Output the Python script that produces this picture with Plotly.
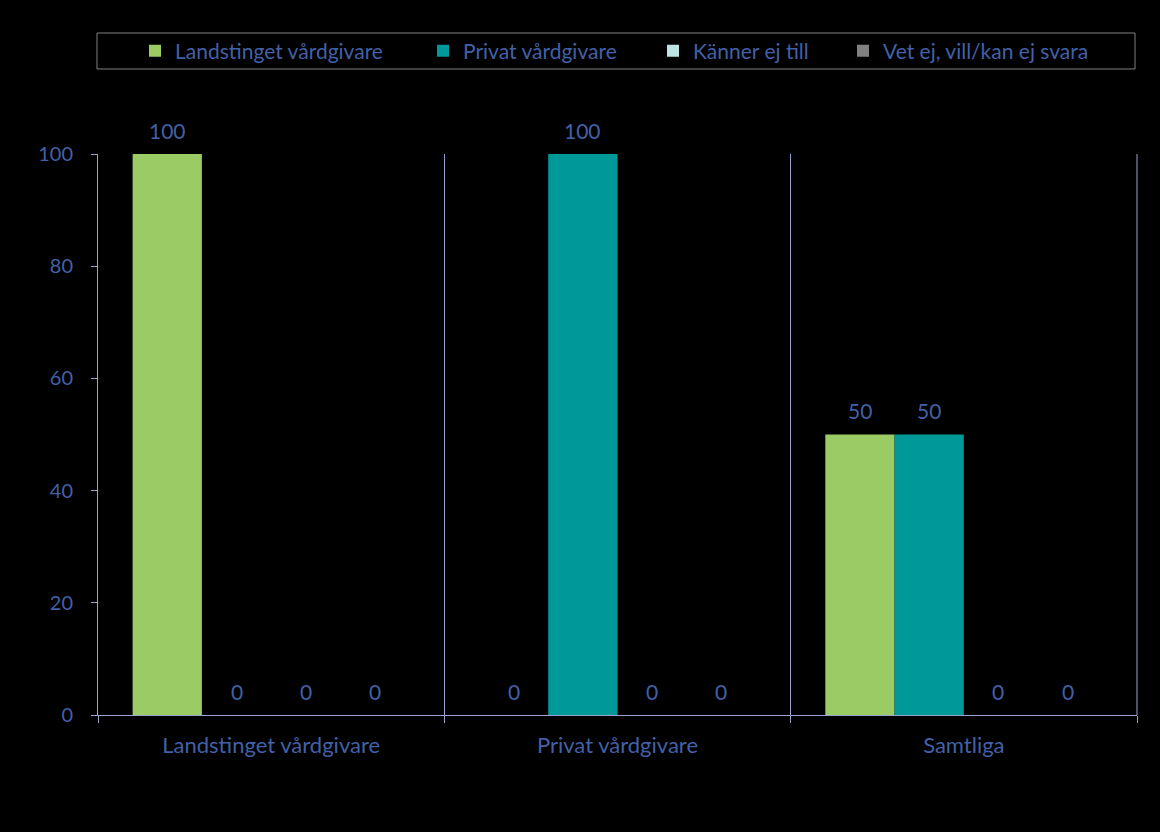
import plotly.graph_objects as go

categories = ["Landstinget vårdgivare", "Privat vårdgivare", "Samtliga"]
series_names = ["Landstinget vårdgivare", "Privat vårdgivare", "Känner ej till", "Vet ej, vill/kan ej svara"]
landstinget = [100, 0, 50]
privat = [0, 100, 50]
kanner_ej = [0, 0, 0]
vet_ej = [0, 0, 0]
y_ticks = [0, 20, 40, 60, 80, 100]

values = [landstinget, privat, kanner_ej, vet_ej]
colors = ["#9BCB64", "#009999", "#BDE3E3", "#808080"]
text_color = "#4360A8"
axis_color = "#9AA3D0"
font_family = "Lato, 'Open Sans', sans-serif"

# plot area in pixels
L, R, T, B = 98, 1137, 154, 715
W, H = R - L, B - T
def px_x(px):
    return (px - L) / W
def px_y(py):
    return (B - py) / H

bargap = 0.2
n_series = len(series_names)
bar_px = W / len(categories) * (1 - bargap) / n_series

legend_x_px = [135, 423, 653, 843]
legend_keys = ["legend", "legend2", "legend3", "legend4"]

fig = go.Figure()
annotations = []
for i, (name, vals, col, lk) in enumerate(zip(series_names, values, colors, legend_keys)):
    fig.add_trace(go.Bar(
        x=categories, y=vals, name=name, marker_color=col,
        marker_line_width=0, legend=lk, hoverinfo="x+y+name",
    ))
    for cat, v in zip(categories, vals):
        annotations.append(dict(
            x=cat, y=v, xref="x", yref="y", text=str(v), showarrow=False,
            xshift=(i - (n_series - 1) / 2) * bar_px, yshift=24,
            yanchor="middle", xanchor="center",
            font=dict(color=text_color, size=21, family=font_family),
        ))

layout_legends = {}
for lk, xp in zip(legend_keys, legend_x_px):
    layout_legends[lk] = dict(
        x=px_x(xp), xanchor="left", y=px_y(51), yanchor="middle",
        bgcolor="rgba(0,0,0,0)", borderwidth=0,
        font=dict(color=text_color, size=21, family=font_family),
        itemwidth=30, tracegroupgap=0,
    )

fig.update_layout(
    width=1160, height=832,
    paper_bgcolor="black", plot_bgcolor="black",
    margin=dict(l=L, r=1160 - R, t=T, b=832 - B),
    barmode="group", bargap=bargap, bargroupgap=0,
    showlegend=True,
    font=dict(color=text_color, size=20, family=font_family),
    xaxis=dict(
        type="category", tickson="boundaries", showgrid=True,
        gridcolor=axis_color, gridwidth=1,
        showline=True, linecolor=axis_color, linewidth=1,
        ticks="outside", ticklen=7, tickcolor=axis_color,
        tickfont=dict(color=text_color, size=22, family=font_family),
        ticklabelstandoff=11,
        zeroline=False,
    ),
    yaxis=dict(
        range=[0, 100], tickvals=y_ticks, showgrid=False,
        showline=True, linecolor=axis_color, linewidth=1,
        ticks="outside", ticklen=6, tickcolor=axis_color,
        tickfont=dict(color=text_color, size=20, family=font_family),
        ticklabelstandoff=14,
        zeroline=False,
    ),
    annotations=annotations,
    shapes=[
        dict(
            type="rect", xref="paper", yref="paper",
            x0=px_x(97), x1=px_x(1135), y0=px_y(69), y1=px_y(33),
            line=dict(color="#808080", width=1), fillcolor="rgba(0,0,0,0)",
        ),
        dict(
            type="line", xref="paper", yref="paper",
            x0=1, x1=1, y0=0, y1=1,
            line=dict(color=axis_color, width=1),
        ),
    ],
    **layout_legends,
)

fig.write_html(
    "out.html",
    config={"displayModeBar": False},
    post_script="document.body.style.margin='0';document.body.style.background='black';",
)
